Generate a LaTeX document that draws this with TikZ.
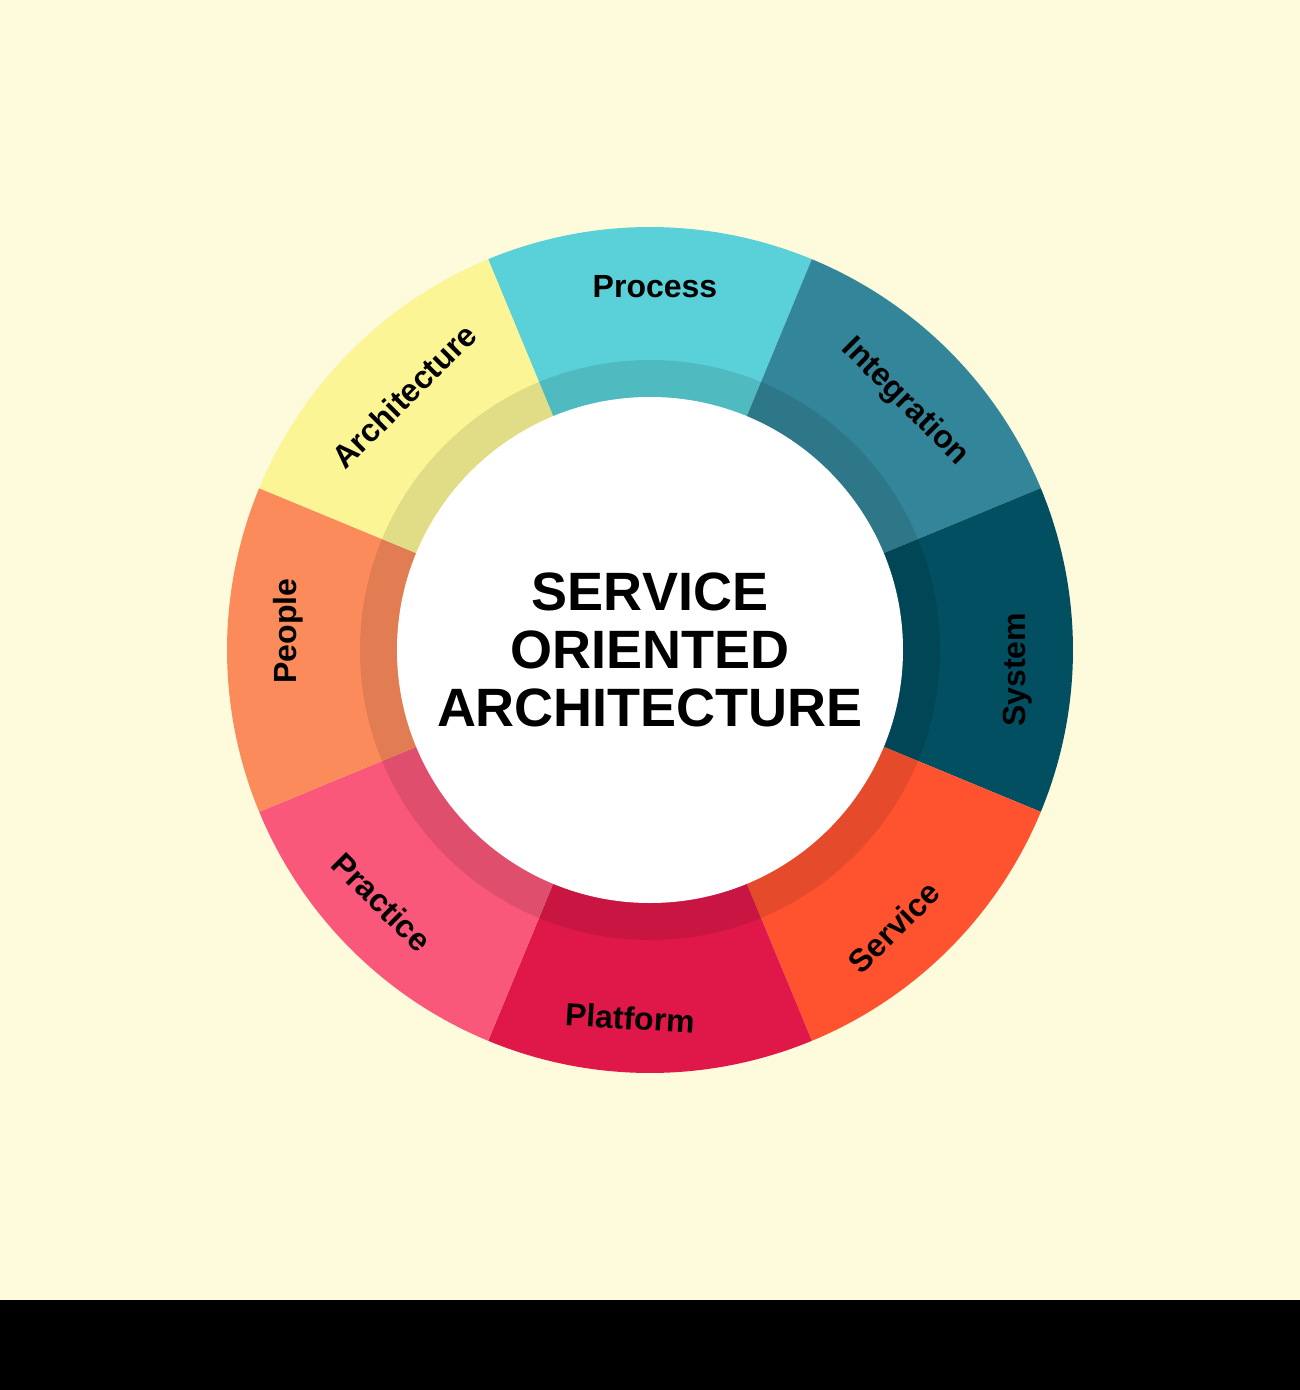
\documentclass[tikz,border=0pt]{standalone}
\usepackage{fontspec}
\setmainfont{Liberation Sans}
\definecolor{bg}{RGB}{254,251,220}
\definecolor{cProcess}{RGB}{90,208,216}
\definecolor{cIntegration}{RGB}{51,133,153}
\definecolor{cSystem}{RGB}{2,79,97}
\definecolor{cService}{RGB}{255,83,48}
\definecolor{cPlatform}{RGB}{224,24,74}
\definecolor{cPractice}{RGB}{249,88,122}
\definecolor{cPeople}{RGB}{252,139,92}
\definecolor{cArch}{RGB}{251,245,150}
\begin{document}
\begin{tikzpicture}[x=1pt,y=1pt,
  lbl/.style={font=\fontsize{32}{36}\selectfont\bfseries, text=black, inner sep=0pt},
  ttl/.style={font=\fontsize{54}{58}\selectfont\bfseries, text=black, align=center, inner sep=0pt}]
\useasboundingbox (-650,-740) rectangle (650,650);
\fill[bg] (-650,-650) rectangle (650,650);
\fill[black] (-650,-740) rectangle (650,-650);
\foreach \a/\c in {90/cProcess,45/cIntegration,0/cSystem,-45/cService,-90/cPlatform,-135/cPractice,180/cPeople,135/cArch}{
  \pgfmathsetmacro{\s}{\a-22.5}
  \pgfmathsetmacro{\e}{\a+22.5}
  \fill[\c] (0,0) -- (\s:423pt) arc[start angle=\s, end angle=\e, radius=423pt] -- cycle;
}
\fill[black, fill opacity=0.1, even odd rule] (0,0) circle[radius=290pt] (0,0) circle[radius=253pt];
\fill[white] (0,0) circle[radius=253pt];
\node[lbl] (process) at (5,363) {Process};
\node[lbl, rotate=-45] (integration) at (255,248) {Integration};
\node[lbl, rotate=90] (system) at (368,-20) {System};
\node[lbl, rotate=45] (service) at (244,-277) {Service};
\node[lbl, rotate=-3.5] (platform) at (-20,-368) {Platform};
\node[lbl, rotate=-45] (practice) at (-268,-252) {Practice};
\node[lbl, rotate=90] (people) at (-362,19) {People};
\node[lbl, rotate=45] (architecture) at (-246,254) {Architecture};
\node[ttl] (title) at (0,0) {SERVICE\\ORIENTED\\ARCHITECTURE};
\end{tikzpicture}
\end{document}
